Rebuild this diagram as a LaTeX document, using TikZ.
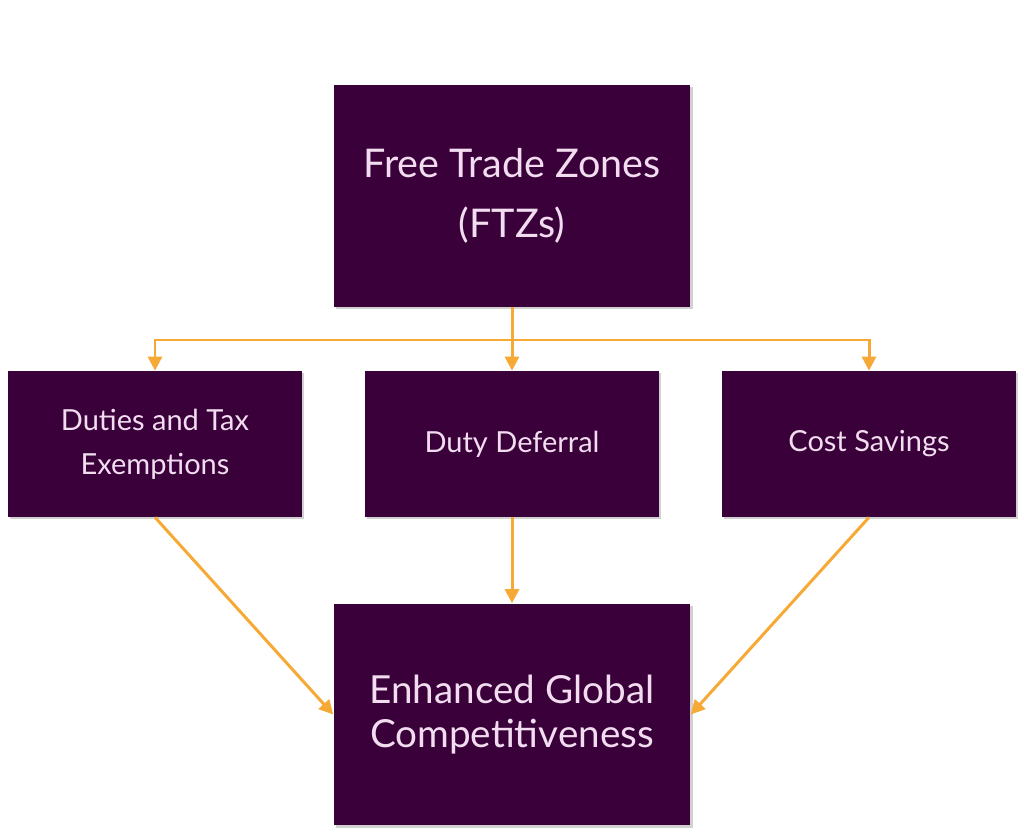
\documentclass[tikz,border=0pt]{standalone}
\usepackage{fontspec}
\setmainfont{Lato}
\usetikzlibrary{arrows.meta,shadows}

\definecolor{boxpurple}{HTML}{3A0039}
\definecolor{boxtext}{HTML}{F2DDF0}
\definecolor{linkorange}{HTML}{F6A935}

\begin{document}
\begin{tikzpicture} [
            x=0.02cm, y=-0.02cm,
            block/.style={rectangle,fill=boxpurple,text=boxtext,align=center,
                inner sep=0pt,drop shadow={fill=black!60,opacity=0.3,shadow xshift=1.2pt,shadow yshift=-1.2pt}},
            big block/.style={block,minimum width=7.14cm,minimum height=4.44cm,
                font=\fontsize{22.5}{34}\selectfont},
            small block/.style={block,minimum width=5.88cm,minimum height=2.92cm,
                font=\fontsize{16.5}{25}\selectfont},
            link/.style = {draw,linkorange,line width=1.7pt,-{Triangle[width=8pt,length=8pt]}},
        ]
        \useasboundingbox (0,0) rectangle (1024,837);
        % First the source and the goal
        \node[big block] (ftz) at (512,196) {Free Trade Zones\\(FTZs)};
        \node[big block,font=\fontsize{22}{25}\selectfont] (comp) at (512,714.5)
            {Enhanced Global\\Competitiveness};
        % The three benefits in a row
        \foreach \pos/\name/\label in {
                {(155,444)/exempt/Duties and Tax\\Exemptions},
                {(512,444)/defer/Duty Deferral},
                {(869,444)/save/Cost Savings}}
            \node[small block] (\name) at \pos {\label};
        % Split line under the source
        \coordinate (bus) at (512,340);
        \foreach \dest in {exempt,defer,save}
            \path[link] (ftz.south) -- (bus) -| (\dest.north);
        % Benefits lead to the goal
        \path[link] (exempt.south) -- (comp.west);
        \path[link] (defer.south) -- (comp.north);
        \path[link] (save.south) -- (comp.east);
    \end{tikzpicture}
\end{document}
